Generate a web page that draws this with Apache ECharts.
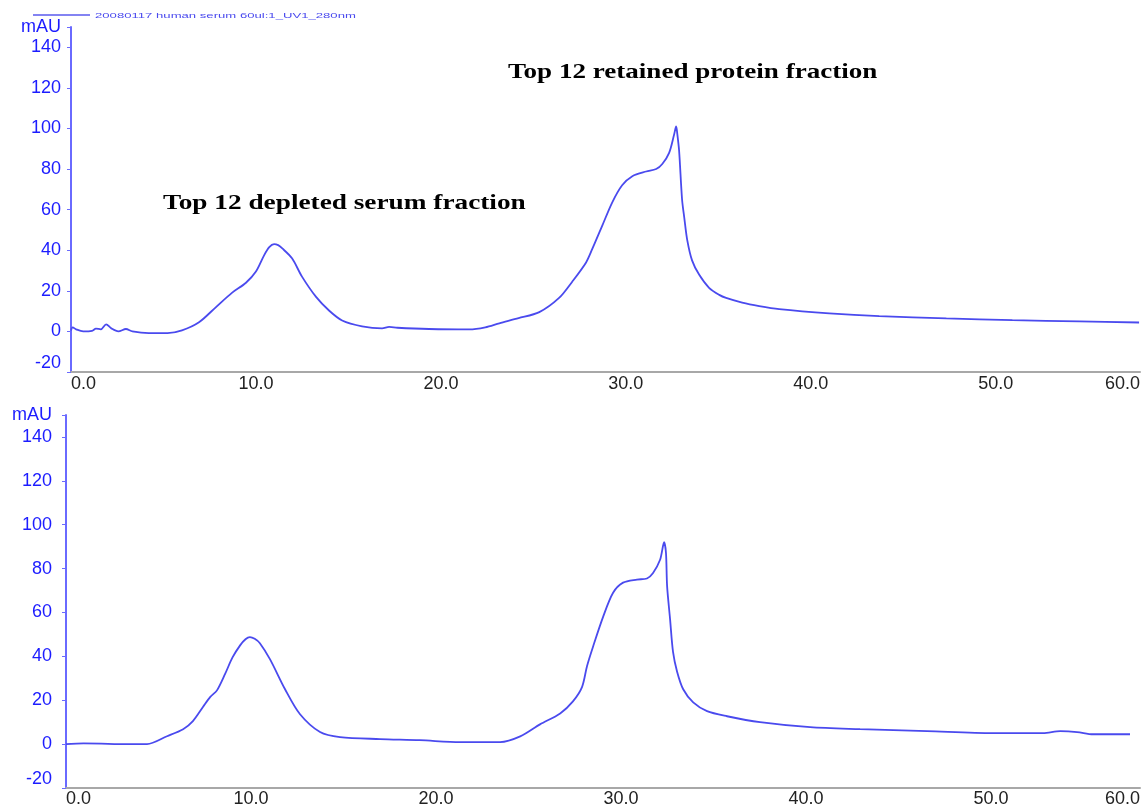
<!DOCTYPE html>
<html>
<head>
<meta charset="utf-8">
<script src="https://cdn.jsdelivr.net/npm/echarts@6/dist/echarts.min.js"></script>
<style>
html,body{margin:0;padding:0;background:#fff;}
#chart{width:1144px;height:808px;}
</style>
</head>
<body>
<div id="chart"></div>
<script>
// ---- data ----
const sampleName = '20080117 human serum 60ul:1_UV1_280nm';
const yUnit = 'mAU';
const annotations = ['Top 12 retained protein fraction', 'Top 12 depleted serum fraction'];

// upper chromatogram (time in min, absorbance in mAU)
const topTime = [0,0.09,0.28,0.66,1.14,1.35,1.61,1.90,2.18,2.56,2.97,3.32,4.21,5.22,6.00,6.92,7.84,8.70,9.46,10.00,10.44,10.72,10.98,11.20,11.41,11.95,12.49,13.25,13.95,14.66,15.74,16.82,17.20,17.65,19.36,21.53,22.40,23.16,24.20,25.32,26.39,27.10,27.85,28.18,28.72,29.26,29.80,30.35,31.10,31.64,31.97,32.34,32.61,32.72,32.78,32.88,33.04,33.16,33.32,33.58,33.96,34.50,35.05,35.42,36.29,37.21,38.29,41.00,43.70,47.33,50.90,54.52,57.75];
const topMAU  = [0.5,2,1,0,0.3,1.4,1.0,3.5,1.5,0,1.2,0,-0.8,-0.8,0.5,4.5,12,19,24,29.5,37.5,41.5,43,42.5,41,36,27,17,10.3,5.4,2.5,1.5,2.2,1.8,1.2,1.0,2.0,4,6.5,9.5,16.5,24.5,34,40.5,52,63.5,72,76.5,78.8,80,82.5,88,97,101,97.5,89,65,56,45,35,28,21.5,18,16.5,14.2,12.5,11,8.9,7.5,6.4,5.6,4.9,4.4];

// lower chromatogram
const botTime = [0,0.95,1.90,2.85,4.38,5.46,6.33,6.86,7.41,7.80,8.16,8.60,9.00,9.41,9.70,9.94,10.20,10.48,11.03,11.84,12.65,13.73,14.81,16.97,19.12,21.30,23.46,24.55,25.62,26.71,27.40,27.89,28.16,28.49,29.03,29.57,30.11,30.86,31.40,31.73,32.11,32.33,32.43,32.49,32.65,32.81,33.03,33.36,33.90,34.65,35.73,37.51,40.22,42.92,46.54,50.11,52.81,53.74,54.65,55.51,57.51];
const botMAU  = [0,0.3,0.2,0,0,3.6,6.8,10.5,17,21.5,24.5,32,39.5,45,47.8,48.8,48,46,38.6,25,13.6,5.5,3.2,2.3,1.8,0.9,0.9,3.5,9,14,19.5,26,35.5,44.5,58,69,73.6,75,75.5,78,84,92,87,72,57,42,33,25,19,15,12.7,10,7.7,6.8,5.9,5,5,5.9,5.5,4.5,4.5];

const xTickLabels = ['0.0','10.0','20.0','30.0','40.0','50.0','60.0'];
const yTicks = [-20,0,20,40,60,80,100,120,140];

// ---- chart ----
const zip = (a,b) => a.map((v,i)=>[v,b[i]]);
const chart = echarts.init(document.getElementById('chart'), null, {renderer:'canvas'});

const lineColor = '#4a4aee';
const yLabelColor = '#1c1cff';
const font = 'Liberation Sans, Arial, sans-serif';

function xAxisOpt(gridIndex, max, margin){
  return {
    type:'value', gridIndex, min:0, max, interval:10,
    axisLine:{show:true, onZero:false, lineStyle:{color:'#a8a8a8', width:2}},
    axisTick:{show:false},
    splitLine:{show:false},
    axisLabel:{
      color:'#222', fontSize:18, fontFamily:font, margin,
      alignMinLabel:'left', alignMaxLabel:'right', showMinLabel:true, showMaxLabel:true,
      formatter:(v)=> (v % 10 === 0) ? xTickLabels[v/10] : xTickLabels[xTickLabels.length-1]
    }
  };
}
function yAxisOpt(gridIndex, margin){
  return {
    type:'value', gridIndex, min:-20, max:150, interval:20,
    axisLine:{show:true, onZero:false, lineStyle:{color:'#6a6aff', width:2}},
    axisTick:{show:true, length:4, lineStyle:{color:'#6a6aff', width:1}},
    splitLine:{show:false},
    axisLabel:{
      color:yLabelColor, fontSize:18, fontFamily:font, margin,
      showMinLabel:true, showMaxLabel:true,
      verticalAlignMinLabel:'bottom',
      formatter:(v)=> yTicks.includes(v) ? String(v) : (v===150 ? yUnit : '')
    }
  };
}

const option = {
  animation:false,
  backgroundColor:'#fff',
  grid:[
    {left:71, right:4, top:27, height:345},
    {left:66, right:4, top:415, height:375}
  ],
  xAxis:[xAxisOpt(0,57.8,3), xAxisOpt(1,58.05,2)],
  yAxis:[yAxisOpt(0,10), yAxisOpt(1,14)],
  series:[
    {name:sampleName, type:'line', xAxisIndex:0, yAxisIndex:0, data:zip(topTime, topMAU),
     showSymbol:false, smooth:0.3, lineStyle:{color:lineColor, width:1.8}},
    {name:'lower', type:'line', xAxisIndex:1, yAxisIndex:1, data:zip(botTime, botMAU),
     showSymbol:false, smooth:0.3, lineStyle:{color:lineColor, width:1.8}}
  ],
  graphic:[
    {type:'line', shape:{x1:33, y1:15, x2:90, y2:15}, style:{stroke:'#5a5aee', lineWidth:1.5}},
    {type:'text', x:95, y:16, scaleX:1.64, style:{text:sampleName, fill:'#4a4aee', font:'8px ' + font, textVerticalAlign:'middle'}},
    {type:'text', x:508, y:72, scaleX:1.23, style:{text:annotations[0], fill:'#000', font:'bold 22px "Liberation Serif", "Times New Roman", serif', textVerticalAlign:'middle'}},
    {type:'text', x:163, y:203, scaleX:1.24, style:{text:annotations[1], fill:'#000', font:'bold 22px "Liberation Serif", "Times New Roman", serif', textVerticalAlign:'middle'}}
  ]
};
chart.setOption(option);
</script>
</body>
</html>
